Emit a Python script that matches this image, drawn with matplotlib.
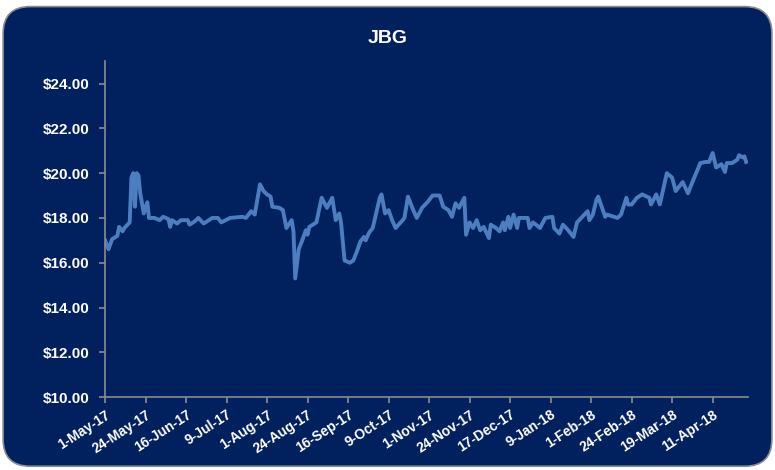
import numpy as np
import pandas as pd
import matplotlib
matplotlib.use("Agg")
import matplotlib.pyplot as plt
from matplotlib.patches import FancyBboxPatch

# days after 1-May-17, closing price
days = [0, 2, 4, 7, 8, 10, 11, 14, 15, 16, 17, 18, 19, 20, 22, 24, 25, 28, 31, 33,
        36, 37, 38, 41, 43, 47, 48, 51, 53, 56, 58, 61, 64, 66, 71, 78, 80, 83, 85, 88,
        90, 92, 94, 95, 99, 101, 103, 106, 107, 108, 110, 112, 114, 115, 116, 120, 123, 126, 129, 131,
        133, 134, 136, 139, 141, 143, 145, 147, 148, 150, 152, 156, 157, 159, 161, 163, 165, 169, 170, 172,
        175, 177, 180, 183, 186, 190, 192, 195, 197, 199, 201, 204, 205, 207, 209, 211, 213, 215, 218, 219,
        222, 224, 226, 227, 229, 230, 232, 234, 235, 240, 241, 243, 247, 250, 254, 255, 258, 260, 263, 266,
        268, 271, 274, 275, 277, 279, 280, 282, 284, 285, 291, 293, 296, 297, 299, 302, 305, 309, 310, 313,
        315, 319, 322, 324, 326, 328, 331, 333, 338, 341, 343, 345, 347, 350, 352, 353, 356, 359, 360, 362,
        363, 364]
price = [17.0, 16.6, 17.05, 17.2, 17.6, 17.4, 17.55, 17.8, 19.8, 20.0, 18.5, 20.0, 19.9, 19.1, 18.2, 18.7, 18.0, 18.0, 17.9, 18.05,
         17.95, 17.6, 17.9, 17.75, 17.9, 17.9, 17.7, 17.85, 18.0, 17.75, 17.85, 18.0, 18.0, 17.8, 18.0, 18.05, 18.0, 18.3, 18.15, 19.5,
         19.2, 19.05, 18.95, 18.5, 18.45, 18.35, 17.55, 17.9, 17.4, 15.3, 16.6, 17.0, 17.45, 17.25, 17.6, 17.8, 18.9, 18.45, 18.9, 17.9,
         18.2, 17.8, 16.1, 16.0, 16.1, 16.5, 16.95, 17.15, 17.0, 17.35, 17.55, 18.9, 19.05, 18.2, 18.35, 17.9, 17.55, 17.9, 18.0, 18.95,
         18.35, 18.0, 18.45, 18.7, 19.0, 19.0, 18.5, 18.35, 18.05, 18.65, 18.45, 18.9, 17.25, 17.8, 17.55, 17.9, 17.45, 17.6, 17.1, 17.7,
         17.55, 17.4, 17.8, 17.45, 18.05, 17.55, 18.15, 17.55, 18.0, 18.0, 17.55, 17.8, 17.55, 18.0, 18.05, 17.55, 17.3, 17.7, 17.45, 17.15,
         17.8, 18.05, 18.3, 17.9, 18.15, 18.8, 18.95, 18.5, 18.05, 18.15, 18.0, 18.15, 18.9, 18.6, 18.6, 18.9, 19.05, 18.9, 18.6, 19.05,
         18.6, 20.0, 19.8, 19.2, 19.4, 19.6, 19.1, 19.5, 20.45, 20.5, 20.5, 20.9, 20.25, 20.4, 20.05, 20.45, 20.45, 20.6, 20.8, 20.7,
         20.75, 20.5]

tick_labels = ["1-May-17", "24-May-17", "16-Jun-17", "9-Jul-17", "1-Aug-17", "24-Aug-17",
               "16-Sep-17", "9-Oct-17", "1-Nov-17", "24-Nov-17", "17-Dec-17", "9-Jan-18",
               "1-Feb-18", "24-Feb-18", "19-Mar-18", "11-Apr-18"]
y_ticks = [10, 12, 14, 16, 18, 20, 22, 24]

start = pd.Timestamp("2017-05-01")
dates = start + pd.to_timedelta(days, unit="D")
tick_dates = pd.to_datetime(tick_labels, format="%d-%b-%y")

navy = "#00205E"
line_c = "#4A7EBE"
plt.rcParams["font.family"] = ["Liberation Sans", "DejaVu Sans"]

fig = plt.figure(figsize=(7.75, 4.7), dpi=100)
fig.patch.set_facecolor("white")
frame = FancyBboxPatch((0.004, 0.008), 0.992, 0.978, boxstyle="round,pad=0,rounding_size=0.035",
                       transform=fig.transFigure, facecolor=navy, edgecolor="#8C8C8C",
                       linewidth=1.2, mutation_aspect=775 / 470, zorder=-5)
fig.patches.append(frame)

ax = fig.add_axes([0.1355, 0.155, 0.8295, 0.715])
ax.set_facecolor(navy)
ax.plot(dates, price, color=line_c, linewidth=2.8, solid_joinstyle="round")

ax.set_ylim(10, 25)
ax.set_yticks(y_ticks)
ax.set_yticklabels(["${:.2f}".format(v) for v in y_ticks])
ax.set_xlim(start, pd.Timestamp("2018-05-01"))
ax.set_xticks(tick_dates)
ax.set_xticklabels(tick_labels, rotation=33, ha="right", rotation_mode="anchor")

for s in ["top", "right"]:
    ax.spines[s].set_visible(False)
for s in ["left", "bottom"]:
    ax.spines[s].set_color("#8C8C8C")
    ax.spines[s].set_linewidth(1.2)
ax.tick_params(axis="both", colors="#8C8C8C", length=4, width=1.2, direction="out")
ax.tick_params(axis="y", pad=7)
for lab in ax.get_yticklabels():
    lab.set_color("white")
    lab.set_fontweight("bold")
    lab.set_fontsize(11)
for lab in ax.get_xticklabels():
    lab.set_color("white")
    lab.set_fontweight("bold")
    lab.set_fontsize(10)

fig.text(0.5, 0.918, "JBG", color="white", fontsize=14, fontweight="bold", ha="center", va="center")

fig.savefig("out.png", dpi=100, facecolor="white")
